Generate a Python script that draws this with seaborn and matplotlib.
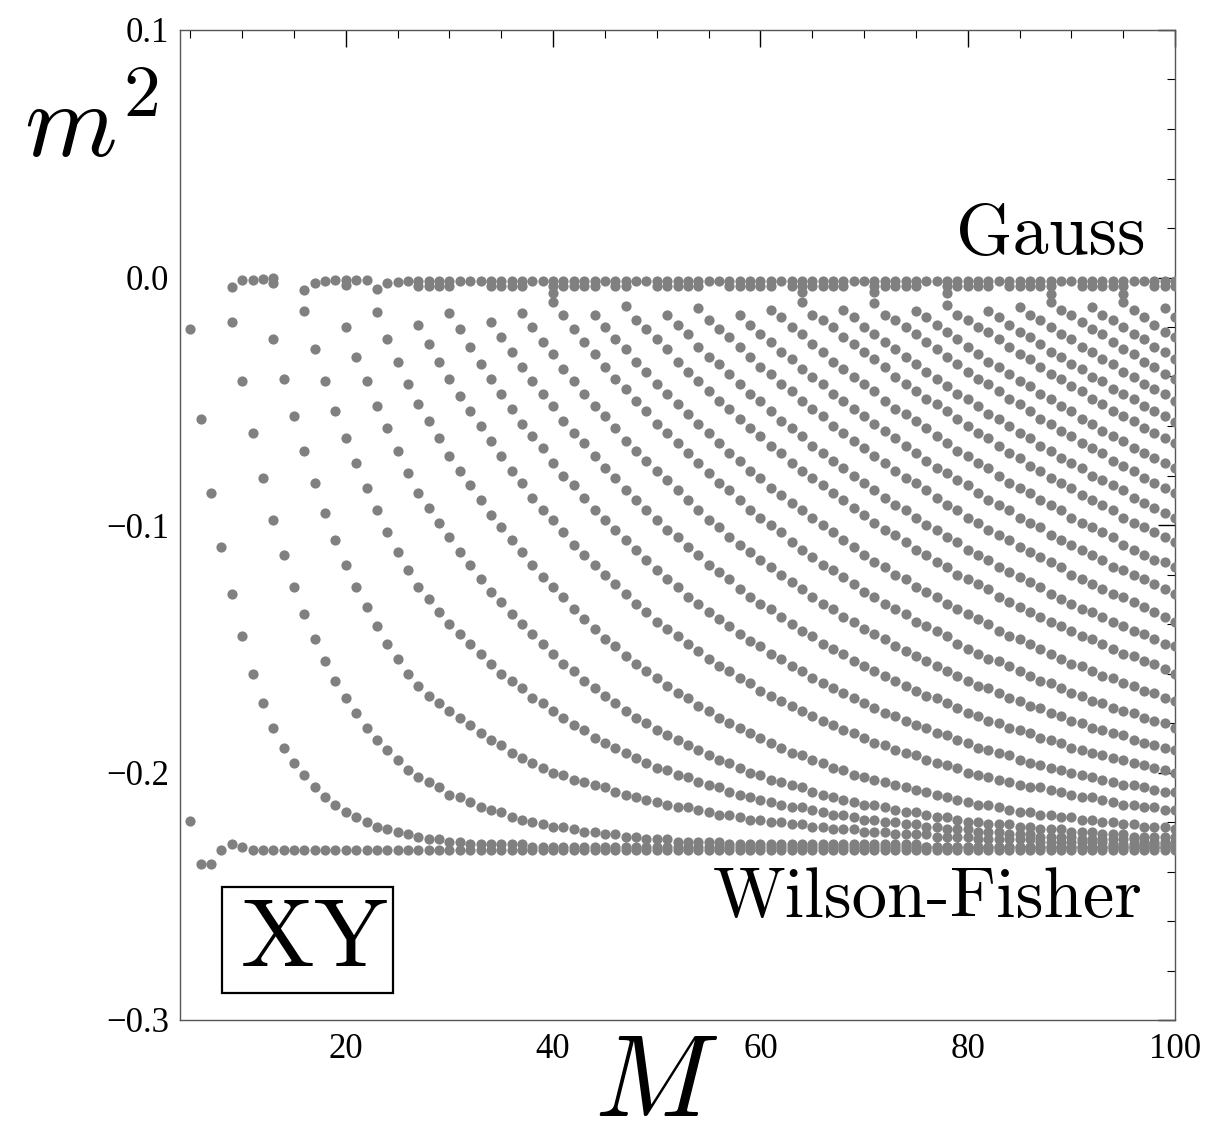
import numpy as np
import pandas as pd
import seaborn as sns
import matplotlib
matplotlib.use("Agg")
import matplotlib.pyplot as plt
from matplotlib.ticker import MultipleLocator
from matplotlib.patches import Rectangle

# ---------------- data (m^2 values in units of -0.001, one value per integer M) -------------
# each descending branch: first M, then m^2 values at consecutive integer M
start_a = 5
curve_a = [21, 57, 87, 109, 128, 145, 160, 172, 182, 190, 196, 201, 206, 210, 213, 216, 218, 220, 222, 223,
           224, 225, 226, 227, 227, 228, 228, 229, 229, 229, 229, 229, 229, 230, 230, 230, 230, 230, 230, 230,
           230, 230, 230, 230, 230, 230, 230, 230, 230, 230, 230, 230, 230, 230, 230, 230, 230, 230, 230, 230,
           230, 230, 230, 230, 230, 230, 230, 230, 230, 230, 230, 230, 230, 230, 230, 230, 230, 230, 230, 230,
           230, 230, 230, 230, 230, 230, 230, 230, 230, 230, 230, 230, 230, 230, 230, 230]
start_b = 9
curve_b = [18, 42, 63, 81, 98, 112, 125, 136, 146, 155, 163, 170, 176, 182, 187, 191, 195, 199, 202, 204,
           206, 209, 210, 212, 214, 215, 216, 218, 219, 220, 221, 222, 222, 223, 224, 224, 225, 225, 226, 226,
           227, 227, 227, 228, 228, 228, 228, 228, 229, 229, 229, 229, 229, 229, 229, 229, 229, 229, 229, 229,
           229, 229, 229, 229, 229, 229, 229, 230, 230, 230, 230, 230, 230, 230, 230, 230, 230, 230, 230, 230,
           230, 230, 230, 230, 230, 230, 230, 230, 230, 230, 230, 230]
start_c = 13
curve_c = [25, 41, 56, 70, 83, 95, 106, 116, 125, 133, 141, 148, 154, 160, 165, 169, 172, 175, 178, 181,
           184, 187, 189, 192, 194, 196, 198, 200, 201, 203, 204, 205, 206, 208, 209, 210, 211, 212, 213, 214,
           214, 215, 216, 217, 217, 218, 219, 219, 220, 220, 221, 221, 222, 222, 223, 223, 223, 224, 224, 224,
           225, 225, 225, 225, 226, 226, 226, 226, 227, 227, 227, 227, 227, 227, 228, 228, 228, 228, 228, 228,
           228, 229, 229, 229, 229, 229, 229, 229]
start_d = 16
curve_d = [13.5, 29, 42, 54, 65, 75, 85, 94, 103, 111, 118, 125, 130, 135, 140, 144, 148, 152, 156, 160,
           163, 166, 170, 172, 175, 178, 181, 183, 186, 188, 190, 192, 194, 196, 198, 199, 201, 202, 204, 205,
           206, 208, 209, 210, 211, 212, 213, 214, 214, 215, 216, 217, 217, 218, 219, 219, 220, 220, 221, 221,
           222, 222, 223, 223, 223, 224, 224, 224, 225, 225, 225, 226, 226, 226, 226, 227, 227, 227, 227, 227,
           227, 228, 228, 228, 228]
start_e = 20
curve_e = [20, 32, 42, 52, 61, 70, 79, 87, 93, 99, 105, 111, 116, 122, 127, 131, 136, 140, 144, 148,
           152, 156, 159, 163, 166, 169, 172, 175, 178, 180, 183, 185, 187, 189, 191, 193, 195, 196, 198, 200,
           201, 203, 204, 205, 206, 208, 209, 210, 211, 212, 213, 213, 214, 215, 216, 216, 217, 218, 218, 219,
           220, 220, 221, 221, 221, 222, 222, 223, 223, 223, 224, 224, 224, 225, 225, 225, 226, 226, 226, 226,
           226]
start_f = 23
curve_f = [14, 25, 34, 43, 51, 58, 65, 72, 78, 84, 90, 96, 101, 106, 111, 116, 121, 125, 129, 134,
           138, 142, 146, 149, 153, 156, 159, 162, 165, 168, 170, 173, 175, 178, 180, 182, 184, 186, 188, 190,
           192, 193, 195, 196, 198, 199, 201, 202, 203, 204, 205, 206, 207, 208, 209, 210, 211, 212, 213, 213,
           214, 215, 216, 216, 217, 217, 218, 218, 219, 219, 220, 220, 221, 221, 222, 222, 222, 223]
start_g = 27
curve_g = [19, 27, 34, 41, 48, 54, 60, 66, 72, 78, 83, 89, 94, 98, 103, 108, 112, 116, 120, 124,
           128, 132, 135, 139, 142, 145, 148, 151, 154, 157, 159, 162, 164, 167, 169, 171, 173, 175, 177, 179,
           181, 183, 184, 186, 188, 189, 191, 192, 193, 195, 196, 197, 198, 200, 201, 202, 203, 204, 205, 206,
           206, 207, 208, 209, 210, 210, 211, 212, 213, 213, 214, 214, 215, 215]
start_h = 30
curve_h = [14.5, 21, 28, 35, 41, 47, 53, 59, 64, 69, 75, 80, 84, 89, 94, 98, 102, 106, 110, 114,
           118, 122, 125, 129, 132, 135, 138, 141, 144, 147, 149, 152, 154, 157, 159, 162, 164, 166, 168, 170,
           172, 174, 176, 177, 179, 181, 182, 184, 185, 187, 188, 190, 191, 192, 193, 195, 196, 197, 198, 199,
           200, 201, 202, 203, 204, 205, 205, 206, 207, 208, 208]
start_i = 34
curve_i = [18, 24, 30, 36, 42, 47, 52, 58, 63, 67, 72, 77, 81, 86, 90, 94, 98, 102, 105, 109,
           112, 116, 119, 122, 126, 129, 132, 134, 137, 140, 143, 145, 148, 150, 152, 155, 157, 159, 161, 163,
           165, 167, 169, 170, 172, 174, 176, 177, 179, 180, 182, 183, 184, 186, 187, 188, 190, 191, 192, 193,
           194, 195, 196, 197, 198, 199, 200]
start_j = 37
curve_j = [14.5, 20, 26, 31, 37, 42, 47, 52, 56, 61, 66, 70, 74, 78, 82, 86, 90, 94, 98, 101,
           105, 108, 111, 114, 117, 120, 123, 126, 129, 132, 134, 137, 139, 142, 144, 146, 149, 151, 153, 155,
           157, 159, 161, 163, 165, 166, 168, 170, 171, 173, 174, 176, 177, 179, 180, 182, 183, 184, 185, 187,
           188, 189, 190, 191]
start_k = 40
curve_k = [10, 15, 21, 26, 31, 36, 41, 45, 50, 54, 59, 63, 67, 71, 75, 79, 83, 86, 90, 94,
           97, 100, 103, 107, 110, 113, 116, 118, 121, 124, 127, 129, 132, 134, 136, 139, 141, 143, 145, 148,
           150, 152, 154, 155, 157, 159, 161, 163, 164, 166, 168, 169, 171, 172, 174, 175, 176, 178, 179, 180,
           182]
start_l = 44
curve_l = [15, 20, 25, 29, 34, 38, 43, 47, 51, 55, 59, 63, 67, 71, 74, 78, 81, 85, 88, 91,
           94, 97, 100, 103, 106, 109, 112, 115, 117, 120, 122, 125, 127, 129, 132, 134, 136, 138, 140, 143,
           145, 146, 148, 150, 152, 154, 156, 157, 159, 161, 162, 164, 165, 167, 168, 170, 171]
start_n = 47
curve_n = [11.5, 17, 21, 25, 29, 34, 38, 42, 46, 50, 53, 57, 61, 64, 68, 71, 75, 78, 81, 84,
           87, 90, 93, 96, 99, 102, 104, 107, 110, 112, 115, 117, 120, 122, 124, 126, 129, 131, 133, 135,
           137, 139, 141, 143, 145, 146, 148, 150, 152, 153, 155, 156, 158, 160]
start_o = 51
curve_o = [15, 19, 23, 28, 32, 35, 39, 43, 47, 50, 54, 58, 61, 64, 68, 71, 74, 77, 80, 83,
           86, 89, 92, 94, 97, 100, 102, 105, 107, 110, 112, 114, 117, 119, 121, 123, 125, 128, 130, 132,
           134, 135, 137, 139, 141, 143, 144, 146, 148, 149]
start_p = 54
curve_p = [12.5, 17, 21, 24, 28, 32, 36, 39, 43, 46, 50, 53, 56, 60, 63, 66, 69, 72, 75, 78,
           81, 83, 86, 89, 92, 94, 97, 99, 102, 104, 106, 109, 111, 113, 115, 117, 120, 122, 124, 126,
           128, 129, 131, 133, 135, 137, 139]
start_q = 58
curve_q = [15, 19, 23, 26, 30, 33, 37, 40, 43, 47, 50, 53, 56, 59, 62, 65, 68, 71, 74, 77,
           79, 82, 84, 87, 90, 92, 94, 97, 99, 101, 104, 106, 108, 110, 112, 114, 117, 118, 120, 122,
           124, 126, 128]
start_r = 61
curve_r = [13, 16, 20, 23, 27, 30, 34, 37, 40, 43, 46, 50, 53, 55, 58, 61, 64, 67, 70, 72,
           75, 77, 80, 83, 85, 87, 90, 92, 94, 97, 99, 101, 103, 105, 108, 110, 112, 114, 115, 117]
start_s = 64
curve_s = [10, 15, 17, 20, 24, 27, 30, 33, 36, 40, 43, 46, 49, 51, 54, 57, 60, 63, 65, 68,
           71, 73, 76, 78, 81, 83, 85, 88, 90, 92, 94, 97, 99, 101, 103, 105, 107]
start_t = 68
curve_t = [13, 16, 20, 23, 26, 29, 32, 35, 38, 41, 44, 47, 49, 52, 55, 57, 60, 63, 65, 68,
           70, 73, 75, 77, 80, 82, 84, 86, 89, 91, 93, 95, 97]
start_u = 71
curve_u = [10.5, 15, 17, 20, 23, 26, 29, 32, 35, 38, 41, 43, 46, 49, 51, 54, 57, 59, 62, 64,
           67, 69, 71, 74, 76, 78, 81, 83, 85, 87]
start_v = 75
curve_v = [13.5, 16, 19, 22, 25, 28, 31, 34, 36, 39, 42, 44, 47, 49, 52, 54, 57, 59, 62, 64,
           66, 69, 71, 73, 75, 77]
start_w = 78
curve_w = [11, 15, 17, 20, 22, 25, 28, 31, 33, 36, 39, 41, 44, 46, 49, 51, 54, 56, 58, 61, 63, 65, 67]
start_x = 82
curve_x = [13.5, 16, 19, 22, 24, 27, 30, 32, 35, 37, 40, 42, 45, 47, 49, 52, 54, 56, 58.5]
start_y = 85
curve_y = [12, 15, 17, 20, 23, 25, 28, 30, 33, 35, 38, 40, 43, 45, 47, 50]
start_z = 88
curve_z = [10, 13, 15, 18, 21, 23, 26, 29, 31, 34, 36, 39, 41]
start_aa = 92
curve_aa = [12, 15, 17, 20, 23, 25, 28, 30, 33]
start_ab = 95
curve_ab = [10, 13, 16, 19, 22, 24]
start_ac = 99
curve_ac = [12.5, 16]

# Wilson-Fisher branch
wf_M = list(range(5, 101))
wf_vals = [219.6, 237, 237, 231.3, 229, 230] + [231.2] * 90

# Gauss (near-zero) points
gauss_M = [9, 10, 11, 12, 13, 13, 16, 17, 18, 19, 20, 20, 21, 22, 23, 24, 25, 26]
gauss_vals = [3.8, 1.1, 1.0, 0.8, 0.1, 2.4, 5.0, 2.2, 1.6, 1.2, 1.2, 3.2, 1.2, 1.2, 4.6, 2.4, 1.9, 1.6]
gauss_up_M = list(range(27, 101))
gauss_up_vals = [1.3] * 74
gauss_low_M = [27, 28, 29, 30, 34, 35, 36, 37, 40, 41, 42, 43, 44, 46, 47, 50, 51, 52, 53, 54,
               57, 58, 59, 60, 61, 63, 64, 65, 66, 67, 68, 71, 72, 73, 74, 75, 78, 79, 80, 81,
               82, 84, 85, 86, 87, 88, 91, 92, 93, 94, 95, 98, 99, 100]
gauss_low_vals = [3.4] * len(gauss_low_M)
partner_M = [40, 64, 71, 78, 88, 95]
partner_vals = [6.3, 6.0, 6.0, 6.2, 6.8, 6.8]

curves = [(start_a, curve_a), (start_b, curve_b), (start_c, curve_c), (start_d, curve_d),
          (start_e, curve_e), (start_f, curve_f), (start_g, curve_g), (start_h, curve_h),
          (start_i, curve_i), (start_j, curve_j), (start_k, curve_k), (start_l, curve_l),
          (start_n, curve_n), (start_o, curve_o), (start_p, curve_p), (start_q, curve_q),
          (start_r, curve_r), (start_s, curve_s), (start_t, curve_t), (start_u, curve_u),
          (start_v, curve_v), (start_w, curve_w), (start_x, curve_x), (start_y, curve_y),
          (start_z, curve_z), (start_aa, curve_aa), (start_ab, curve_ab), (start_ac, curve_ac)]

rows = []
for st, vals in curves:
    for i, v in enumerate(vals):
        rows.append((st + i, -v / 1000.0))
for Ms, vs in [(wf_M, wf_vals), (gauss_M, gauss_vals), (gauss_up_M, gauss_up_vals),
               (gauss_low_M, gauss_low_vals), (partner_M, partner_vals)]:
    for m, v in zip(Ms, vs):
        rows.append((m, -v / 1000.0))
df = pd.DataFrame(rows, columns=["M", "m2"])

# ---------------- plot ----------------
sns.set_theme(style="white")
plt.rcParams["font.family"] = ["Liberation Serif", "DejaVu Serif"]
plt.rcParams["mathtext.fontset"] = "cm"
for key in ["text.color", "axes.labelcolor", "xtick.color", "ytick.color"]:
    plt.rcParams[key] = "black"

W, H = 1228, 1146
fig = plt.figure(figsize=(W / 100, H / 100), dpi=100)
ax = fig.add_axes([180 / W, 1 - 1020 / H, 995 / W, 990 / H])
sns.scatterplot(data=df, x="M", y="m2", ax=ax, color="#808080", s=54, linewidth=0,
                legend=False, zorder=3)

ax.set_xlim(4, 100)
ax.set_ylim(-0.3, 0.1)
ax.set_xticks([20, 40, 60, 80, 100])
ax.set_xticklabels(["20", "40", "60", "80", "100"])
ax.set_yticks([0.1, 0.0, -0.1, -0.2, -0.3])
ax.set_yticklabels(["0.1", "0.0", "\u22120.1", "\u22120.2", "\u22120.3"])
ax.xaxis.set_minor_locator(MultipleLocator(5))
ax.yaxis.set_minor_locator(MultipleLocator(0.02))
ax.tick_params(which="both", direction="in", top=True, right=True, color="black",
               labelsize=25, labelcolor="black")
ax.tick_params(which="major", length=12, width=1.0)
ax.tick_params(axis="x", which="major", pad=9)
ax.tick_params(axis="y", which="major", pad=8)
ax.tick_params(which="minor", length=6, width=0.8)
for sp in ax.spines.values():
    sp.set_color("#555555")
    sp.set_linewidth(1.0)
ax.set_xlabel("")
ax.set_ylabel("")

fig.text(24 / W, 1 - 157 / H, "$m^2$", fontsize=76, ha="left", va="baseline")
fig.text(656 / W, 1 - 1141 / H, "$M$", fontsize=84, ha="center", va="bottom")

ax.text(97.2, 0.0095, "Gauss", fontsize=52, ha="right", va="baseline", family="cmr10")
ax.text(96.9, -0.2585, "Wilson-Fisher", fontsize=51, ha="right", va="baseline", family="cmr10")
ax.add_patch(Rectangle((42 / 995, 27 / 990), 171 / 995, 106 / 990, transform=ax.transAxes,
                       fill=True, fc="white", ec="black", lw=1.6, zorder=4))
ax.text(17.0, -0.2685, "XY", fontsize=71, ha="center", va="center", family="cmr10", zorder=5)

fig.savefig("out.png", dpi=100)
